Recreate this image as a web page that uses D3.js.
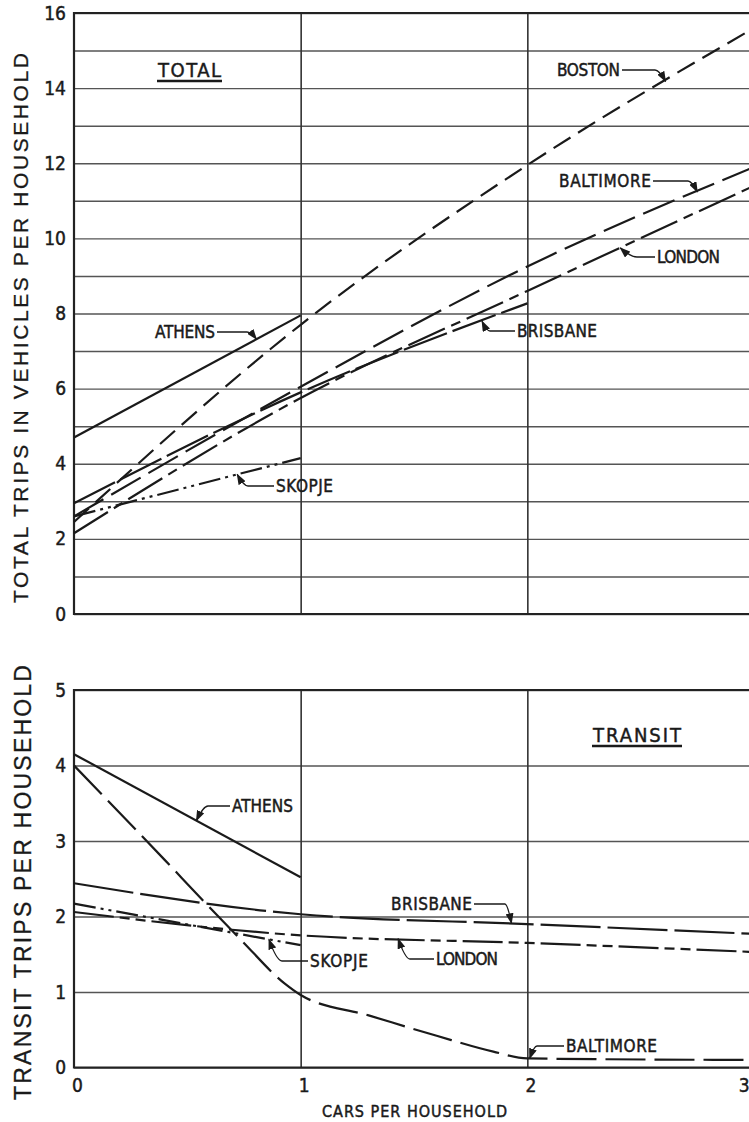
<!DOCTYPE html>
<html>
<head>
<meta charset="utf-8">
<script src="https://cdn.jsdelivr.net/npm/d3@7"></script>
<style>
  html, body { margin: 0; padding: 0; background: #fff; }
  svg { display: block; }
  .narrow { font-family: "Liberation Sans Narrow", "DejaVu Sans Condensed", "Arial Narrow", sans-serif; fill: #1a1a1a; stroke: #1a1a1a; stroke-width: 0.45px; }
  .wide { font-family: "Liberation Sans", "DejaVu Sans", Arial, sans-serif; fill: #1a1a1a; stroke: #1a1a1a; stroke-width: 0.3px; }
</style>
</head>
<body>
<svg id="chart" width="749" height="1122"></svg>
<script>
// ---- data -------------------------------------------------------------
const cars = [0, 1, 2, 3];
const carsToOne = [0, 1];
const carsToTwo = [0, 1, 2];

// total trips in vehicles per household
const totalAthens    = [4.7, 7.95];
const totalBoston    = [2.45, 7.7, 11.95, 15.6];
const totalBaltimore = [2.6, 6.05, 9.25, 11.9];
const totalLondon    = [2.15, 5.75, 8.6, 11.4];
const totalBrisbane  = [2.95, 5.9, 8.27];
const totalSkopje    = [2.6, 4.15];

// transit trips per household
const transitAthens    = [4.15, 2.52];
const transitBrisbane  = [2.44, 2.03, 1.9, 1.77];
const transitLondon    = [2.06, 1.75, 1.65, 1.53];
const transitSkopje    = [2.17, 1.62];
const baltimoreTransitCars = [0, 0.4, 0.57, 0.74, 0.93, 1, 1.3, 1.6, 1.85, 2, 3];
const transitBaltimore     = [4.0, 2.75, 2.21, 1.68, 1.11, 0.96, 0.69, 0.42, 0.21, 0.12, 0.1];

const totalTicks = [0, 2, 4, 6, 8, 10, 12, 14, 16];
const transitTicks = [0, 1, 2, 3, 4, 5];
const xTickLabels = ["0", "1", "2", "3"];

// ---- layout -----------------------------------------------------------
const svg = d3.select("#chart");
const INK = "#1a1a1a";

const x = d3.scaleLinear().domain([0, 3]).range([74, 754]);
const yTotal = d3.scaleLinear().domain([0, 16]).range([614, 13]);
const yTransit = d3.scaleLinear().domain([0, 5]).range([1067.5, 690]);

const styles = {
  athens:    null,
  boston:    "20,9",
  baltimore: "34,9",
  london:    "40,7,10,7",
  brisbane:  "46,6",
  skopje:    "22,5,3,5,3,5"
};

const pair = (xs, ys) => xs.map((v, i) => [v, ys[i]]);

const totalSeries = [
  { key: "athens",    pts: pair(carsToOne, totalAthens) },
  { key: "boston",    pts: pair(cars, totalBoston) },
  { key: "baltimore", pts: pair(cars, totalBaltimore) },
  { key: "london",    pts: pair(cars, totalLondon) },
  { key: "brisbane",  pts: pair(carsToTwo, totalBrisbane) },
  { key: "skopje",    pts: pair(carsToOne, totalSkopje) }
];
const transitSeries = [
  { key: "athens",    pts: pair(carsToOne, transitAthens) },
  { key: "brisbane",  pts: pair(cars, transitBrisbane), dash: "60,7" },
  { key: "london",    pts: pair(cars, transitLondon), dash: "40,6,10,6,10,6" },
  { key: "skopje",    pts: pair(carsToOne, transitSkopje) },
  { key: "baltimore", pts: pair(baltimoreTransitCars, transitBaltimore), dash: "40,9" }
];

// arrowhead for leader lines
svg.append("defs").append("marker")
  .attr("id", "arrow")
  .attr("markerUnits", "userSpaceOnUse")
  .attr("markerWidth", 11).attr("markerHeight", 8)
  .attr("refX", 10).attr("refY", 4)
  .attr("orient", "auto")
  .append("path").attr("d", "M0,0 L11,4 L0,8 Z").attr("fill", INK);

function interp(pts, xv) {
  for (let i = 0; i < pts.length - 1; i++) {
    const [x0, y0] = pts[i], [x1, y1] = pts[i + 1];
    if (xv >= x0 && xv <= x1) return y0 + (y1 - y0) * (xv - x0) / (x1 - x0);
  }
  return pts[pts.length - 1][1];
}

function drawPanel(y, gridMax, tickVals, series, top, bottom) {
  const g = svg.append("g");

  // horizontal rules at every unit
  g.append("g")
    .attr("transform", `translate(${x(0)},0)`)
    .call(d3.axisLeft(y).tickValues(d3.range(0, gridMax + 1)).tickSize(-(x(3) - x(0))).tickFormat(""))
    .call(a => a.select(".domain").remove())
    .call(a => a.selectAll("line").attr("stroke", "#555").attr("stroke-width", 1.4));

  // vertical rules at 1 and 2 cars
  g.append("g")
    .attr("transform", `translate(0,${bottom})`)
    .call(d3.axisBottom(x).tickValues([1, 2]).tickSize(-(bottom - top)).tickFormat(""))
    .call(a => a.select(".domain").remove())
    .call(a => a.selectAll("line").attr("stroke", "#333").attr("stroke-width", 1.6));

  // frame: left, top, bottom
  g.append("path")
    .attr("d", `M${x(3)},${top} H${x(0)} V${bottom} H${x(3)}`)
    .attr("fill", "none").attr("stroke", "#222").attr("stroke-width", 2.2);

  // tick labels
  g.append("g")
    .attr("transform", `translate(${x(0)},0)`)
    .call(d3.axisLeft(y).tickValues(tickVals).tickSize(0).tickPadding(8).tickFormat(d3.format("d")))
    .call(a => a.select(".domain").remove())
    .call(a => a.selectAll("text")
      .attr("class", "narrow")
      .style("font-size", "19px")
      .attr("fill", INK));

  // series lines
  const line = d3.line().x(d => x(d[0])).y(d => y(d[1])).curve(d3.curveMonotoneX);
  g.selectAll("path.series")
    .data(series)
    .join("path")
    .attr("class", "series")
    .attr("d", d => line(d.pts))
    .attr("fill", "none")
    .attr("stroke", INK)
    .attr("stroke-width", 2.2)
    .attr("stroke-linecap", "butt")
    .attr("stroke-dasharray", d => d.dash || styles[d.key]);
  return g;
}

drawPanel(yTotal, 16, totalTicks, totalSeries, yTotal(16), yTotal(0));
drawPanel(yTransit, 5, transitTicks, transitSeries, yTransit(5), yTransit(0));

// x axis labels under the transit panel
svg.append("g")
  .attr("transform", `translate(3,${yTransit(0)})`)
  .call(d3.axisBottom(x).tickValues(cars).tickSize(0).tickPadding(11).tickFormat((d, i) => xTickLabels[i]))
  .call(a => a.select(".domain").remove())
  .call(a => a.selectAll("text").attr("class", "narrow").style("font-size", "19px").attr("fill", INK))
  .call(a => a.selectAll(".tick").filter(d => d === 3).select("text")
    .attr("text-anchor", "end").attr("x", 749 - 3 - x(3)));

svg.append("text").attr("class", "narrow")
  .attr("x", 322).attr("y", 1117)
  .attr("textLength", 185).attr("lengthAdjust", "spacing")
  .style("font-size", "16px")
  .text("CARS PER HOUSEHOLD");

// axis titles
svg.append("text").attr("class", "wide")
  .attr("transform", "translate(28,603) rotate(-90)")
  .attr("textLength", 550).attr("lengthAdjust", "spacing")
  .style("font-size", "21px")
  .text("TOTAL  TRIPS IN VEHICLES PER HOUSEHOLD");

svg.append("text").attr("class", "wide")
  .attr("transform", "translate(31,1100) rotate(-90)")
  .attr("textLength", 435).attr("lengthAdjust", "spacing")
  .style("font-size", "23px")
  .text("TRANSIT  TRIPS  PER  HOUSEHOLD");

// underlined panel headings
function heading(txt, px, py, len) {
  svg.append("text").attr("class", "narrow")
    .attr("x", px).attr("y", py)
    .attr("textLength", len).attr("lengthAdjust", "spacing")
    .style("font-size", "20px")
    .text(txt);
  svg.append("line")
    .attr("x1", px - 1).attr("x2", px + len + 1)
    .attr("y1", py + 4).attr("y2", py + 4)
    .attr("stroke", INK).attr("stroke-width", 2.4);
}
heading("TOTAL", 158, 77, 63);
heading("TRANSIT", 593, 742, 88);

// city labels with leader arrows
const totalNotes = [
  { text: "BOSTON",    lx: 557, ly: 76,  len: 63, elbow: 655, series: totalSeries[1], at: 2.61 },
  { text: "BALTIMORE", lx: 559, ly: 187, len: 92, elbow: 688, series: totalSeries[2], at: 2.75 },
  { text: "LONDON",    lx: 657, ly: 263, len: 63, elbow: 637, series: totalSeries[3], at: 2.41 },
  { text: "ATHENS",    lx: 155, ly: 338, len: 60, elbow: 247, series: totalSeries[0], at: 0.805 },
  { text: "SKOPJE",    lx: 276, ly: 492, len: 57, elbow: 248, series: totalSeries[5], at: 0.72 },
  { text: "BRISBANE",  lx: 517, ly: 337, len: 80, elbow: 490, series: totalSeries[4], at: 1.80 }
];
const transitNotes = [
  { text: "ATHENS",    lx: 232, ly: 812,  len: 61, elbow: 208, series: transitSeries[0], at: 0.54 },
  { text: "BRISBANE",  lx: 391, ly: 910,  len: 81, elbow: 505, series: transitSeries[1], at: 1.93 },
  { text: "LONDON",    lx: 436, ly: 965,  len: 62, elbow: 410, series: transitSeries[2], at: 1.43 },
  { text: "SKOPJE",    lx: 310, ly: 967,  len: 58, elbow: 282, series: transitSeries[3], at: 0.86 },
  { text: "BALTIMORE", lx: 566, ly: 1052, len: 91, elbow: 537, series: transitSeries[4], at: 2.01 }
];

function notes(list, y) {
  list.forEach(n => {
    svg.append("text").attr("class", "narrow")
      .attr("x", n.lx).attr("y", n.ly)
      .attr("textLength", n.len).attr("lengthAdjust", "spacing")
      .style("font-size", "17px")
      .text(n.text);
    const tipX = x(n.at), tipY = y(interp(n.series.pts, n.at));
    const rightward = n.elbow > n.lx;
    const startX = rightward ? n.lx + n.len + 2 : n.lx - 2;
    const midY = n.ly - 6;
    svg.append("path")
      .attr("d", `M${startX},${midY} H${n.elbow} Q${n.elbow + (tipX - n.elbow) * 0.4},${midY} ${tipX},${tipY}`)
      .attr("fill", "none").attr("stroke", INK).attr("stroke-width", 1.3)
      .attr("marker-end", "url(#arrow)");
  });
}
notes(totalNotes, yTotal);
notes(transitNotes, yTransit);
</script>
</body>
</html>
